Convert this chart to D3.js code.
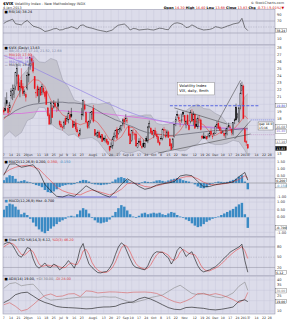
<!DOCTYPE html>
<html><head><meta charset="utf-8">
<script src="https://cdn.jsdelivr.net/npm/d3@7"></script>
<style>html,body{margin:0;padding:0;background:#fff;} svg{display:block;font-family:"DejaVu Sans",Verdana,sans-serif;}</style>
</head><body><svg id="c" width="287" height="320"></svg>
<script>
// ---------- DATA ----------
const startDate = "2012-05-07", endDate = "2013-01-31";
const holidays = ["2012-05-28","2012-07-04","2012-09-03","2012-10-29","2012-10-30","2012-11-22","2012-12-25","2013-01-01","2013-01-21"];
const monthNames = ["Jan","Feb","Mar","Apr","May","Jun","Jul","Aug","Sep","Oct","Nov","Dec"];

const opens = [19.2,19.4,20.5,19.4,19.5,21.2,21.5,21.4,22.5,24.0, 24.1,21.8,23.4,22.5,21.6,21.4,22.3,24.3,25.6,26.5,
 26.0,23.9,21.6,22.5,20.3,22.4,21.7,22.3,21.7,21.8, 19.5,18.5,17.3,19.5,19.6,20.1,19.4,20.1,17.6,17.2,
 16.8,16.9,18.0,17.7,17.8,18.5,18.6,17.6,17.0,17.3, 16.4,15.7,15.8,18.4,18.5,19.9,18.8,17.5,17.0,17.7,
 18.6,19.4,16.4,15.7,15.5,16.0,15.5,15.7,15.2,14.9, 15.0,14.7,14.0,14.0,14.1,15.3,15.6,16.4,15.9,16.5,
 16.4,17.2,17.9,18.0,17.6,16.9,15.8,14.9,16.0,15.6, 15.8,13.9,14.8,14.8,14.0,14.5,13.9,15.2,14.8,16.8,
 16.6,16.2,15.6,16.3,15.7,15.4,14.6,15.2,15.2,16.4, 15.6,15.6,16.1,15.1,14.4,13.9,15.4,17.6,18.6,18.1,
 17.4,17.8,18.9,18.4,17.1,18.4,17.0,17.6,18.6,17.8, 18.6,17.2,16.8,17.8,17.8,15.5,15.4,15.3,15.4,15.5,
 15.5,16.2,15.5,15.7,15.9,17.0,17.3,16.8,16.1,16.1, 15.9,15.7,16.0,16.8,16.8,16.5,15.9,17.8,19.6,18.4,
 17.6,19.8,22.0,22.6,16.4,14.7,14.3];
const highs = [19.6,21.0,21.7,19.9,20.3,22.3,22.8,22.8,24.6,25.7, 24.3,23.1,25.1,23.0,22.1,21.7,24.6,25.3,26.7,27.1,
 26.3,24.0,22.2,22.8,22.4,22.5,22.9,22.6,22.0,22.0, 19.6,18.8,20.4,19.9,20.6,20.4,19.6,20.8,17.8,17.6,
 17.0,17.7,18.3,18.4,19.1,19.0,19.5,17.8,17.6,17.9, 16.8,16.0,16.6,19.5,20.7,20.5,19.0,17.5,17.7,18.9,
 19.0,19.9,16.5,16.1,16.3,16.3,15.7,15.8,15.4,15.6, 15.2,14.8,14.1,14.6,15.4,16.0,16.4,16.8,16.4,16.9,
 17.0,18.0,18.2,18.6,18.1,17.0,15.9,16.3,16.5,16.0, 16.3,14.5,15.2,15.3,14.3,15.0,14.6,15.5,16.9,17.7,
 16.8,16.4,16.4,16.7,16.2,15.5,14.9,15.5,16.6,16.8, 16.5,16.4,16.3,15.2,14.5,15.2,17.2,18.3,19.1,18.6,
 17.8,18.6,19.0,18.4,17.7,18.6,17.4,19.2,19.3,19.0, 18.7,18.0,18.3,18.5,18.0,15.7,16.0,15.6,15.5,15.9,
 16.2,16.6,15.8,16.1,17.1,17.6,17.7,17.0,16.6,16.3, 16.0,16.6,16.9,17.4,17.0,16.5,17.4,18.0,20.1,18.8,
 19.7,23.0,23.2,22.8,16.7,14.9,14.4];
const lows = [18.5,19.0,19.8,18.6,18.9,20.8,20.6,20.9,22.0,22.9, 21.9,21.0,22.2,21.2,21.2,20.4,22.0,23.1,24.9,25.5,
 24.4,22.1,20.9,21.1,20.3,21.2,21.3,21.4,20.8,19.9, 18.3,17.1,17.1,18.1,19.4,19.5,18.9,19.1,16.9,16.6,
 16.3,16.5,17.1,17.5,17.3,17.8,18.1,16.7,16.8,16.2, 15.9,15.4,15.6,17.8,18.3,19.1,17.3,16.5,16.6,17.3,
 18.0,17.4,15.5,15.4,15.2,15.3,15.1,14.7,14.8,14.6, 14.4,14.2,13.3,13.8,13.7,15.0,15.3,15.0,15.7,16.0,
 16.2,16.9,16.6,17.4,17.3,15.5,14.4,14.7,15.6,15.0, 14.0,13.8,14.5,14.1,13.7,13.9,13.8,14.7,14.5,16.6,
 15.9,15.6,15.2,15.6,15.1,14.5,14.1,14.9,14.9,15.9, 15.2,15.3,15.2,14.1,13.6,13.7,15.3,16.9,18.1,17.5,
 16.8,17.4,18.2,17.2,16.6,17.1,16.3,17.3,17.6,17.0, 16.6,16.8,16.5,17.5,16.3,15.2,15.1,15.1,15.0,15.3,
 15.3,15.5,15.1,15.5,15.8,16.6,16.5,16.2,15.8,15.9, 15.3,15.2,15.6,16.7,16.3,15.6,15.6,17.2,17.7,18.0,
 17.4,19.3,21.4,17.9,14.6,14.1,13.7];
const closes = [18.9,19.1,20.1,18.8,19.9,21.9,22.0,22.3,24.5,25.1, 22.0,22.5,22.3,21.5,21.8,21.0,24.1,24.1,26.7,26.1,
 24.7,22.2,21.7,21.2,22.1,21.3,22.5,21.7,21.1,20.0, 18.4,17.2,20.1,18.1,20.1,19.7,19.5,19.7,17.1,16.8,
 16.7,17.5,17.1,18.0,18.7,18.0,18.3,16.7,17.1,16.5, 16.1,15.5,16.3,18.6,20.5,19.3,17.5,16.7,17.6,18.9,
 19.0,17.6,15.6,15.9,16.0,15.3,15.3,14.7,15.0,15.2, 14.6,14.3,13.5,14.0,15.1,15.4,16.3,15.2,16.4,16.6,
 17.0,17.8,17.5,18.0,17.7,15.6,14.4,16.3,16.0,15.8, 14.1,14.5,14.6,14.2,13.9,14.0,14.5,14.8,16.8,17.3,
 16.0,15.7,16.3,15.7,15.4,14.6,14.3,15.1,16.4,16.3, 15.4,16.1,15.3,14.1,13.6,15.1,17.1,17.9,18.4,17.9,
 17.7,17.8,18.6,17.6,17.6,17.1,16.4,18.9,17.6,18.6, 16.6,16.9,18.0,17.8,16.4,15.2,15.2,15.3,15.1,15.5,
 15.9,15.7,15.4,15.9,16.9,17.1,16.6,16.3,15.9,16.1, 15.6,15.9,16.6,17.0,16.7,16.0,17.4,17.7,17.8,18.5,
 19.5,21.6,22.7,18.0,14.7,14.6,13.8];

// overlays sampled every 4 trading days (last sample = last day)
const step4 = 4;
const bbUpper = [20.2,20.2,22.6,24.0,24.9,26.9,26.0,25.9,26.5,26.2,23.5,22.4,20.6,20.3,20.0,20.1,20.0,20.1,20.3,18.7,17.4,18.3,18.4,18.3,18.5,18.5,17.3,17.1,17.2,17.6,18.6,19.1,19.7,20.0,19.4,19.3,18.7,18.3,17.3,17.3,18.7,21.1,21.5];
const bbLower = [15.4,16.2,15.4,16.0,17.7,18.1,19.6,19.5,17.3,16.6,16.3,15.6,15.8,15.1,15.2,15.3,14.8,13.7,12.7,12.7,13.4,13.1,13.2,13.5,12.9,12.9,13.3,13.1,13.6,13.6,13.4,13.5,14.1,14.4,15.4,14.5,14.3,14.3,14.5,14.9,14.7,13.5,12.7];
const ma10 = [17.9,18.7,20.6,22.1,22.7,23.5,23.4,22.5,20.6,19.6,18.5,18.1,17.5,17.1,17.4,18.0,17.4,16.3,15.0,14.8,15.4,16.8,16.7,15.7,14.8,15.1,15.7,15.7,15.5,15.5,16.3,17.6,17.7,17.5,17.1,16.1,15.6,16.1,16.3,16.4,17.3,18.4,17.9];
const ma50 = [18.1,18.5,19.1,19.5,19.8,20.0,20.1,20.2,20.3,20.3,20.3,20.2,20.2,20.1,19.9,19.6,19.1,18.6,18.2,17.8,17.5,17.1,16.8,16.4,16.1,15.9,15.8,15.7,15.6,15.6,15.7,15.8,15.9,16.0,16.1,16.2,16.3,16.3,16.3,16.4,16.5,16.6,16.6];
const ma100 = [18.6,18.6,18.7,18.7,18.8,18.9,19.0,19.0,19.1,19.1,19.1,19.0,19.0,18.9,18.9,18.8,18.8,18.7,18.6,18.5,18.4,18.3,18.2,18.1,18.0,17.9,17.7,17.6,17.4,17.3,17.2,17.1,17.0,16.9,16.8,16.8,16.7,16.7,16.6,16.6,16.6,16.6,16.5];
const ma200 = [26.9,26.6,26.3,26.0,25.6,25.2,24.8,24.4,24.0,23.6,23.2,22.8,22.4,22.0,21.6,21.2,20.8,20.4,20.0,19.7,19.3,19.0,18.7,18.4,18.2,18.0,17.8,17.6,17.5,17.3,17.2,17.1,17.0,16.9,16.8,16.7,16.6,16.6,16.5,16.5,16.4,16.4,16.4];

// indicators
const step2 = 2;
const rsi = [62,68,72,76,61,59,57,66,72,62,53,50,47,42,35,37,40,44,45,40,41,45,47,51,48,43,55,57,51,48,46,43,40,38,36,34,37,40,50,56,58,60,52,40,45,44,40,41,42,43,41,40,43,46,45,42,41,55,62,64,62,58,48,50,57,52,46,43,40,41,42,45,51,49,46,49,53,56,60,62,64,79,48,38];
const macdLine = [0.55,1.35,1.36,1.12,1.2,1.3,0.8,-0.1,-0.55,-0.95,-1.0,-0.85,-0.95,-0.6,-0.2,-0.45,-0.65,-0.85,-1.0,-0.6,-0.1,0.3,0.05,-0.25,-0.45,-0.35,-0.15,-0.05,0.0,0.1,0.5,0.58,0.52,0.1,-0.28,-0.25,-0.12,-0.05,0.0,0.07,0.45,0.75,0.2];
const macdSignal = [0.65,0.95,1.12,1.22,1.27,1.15,1.0,0.55,0.15,-0.3,-0.55,-0.7,-0.8,-0.85,-0.65,-0.5,-0.6,-0.72,-0.85,-0.7,-0.45,-0.05,0.0,-0.1,-0.25,-0.3,-0.2,-0.1,0.05,0.2,0.35,0.45,0.45,0.3,0.05,-0.1,-0.13,-0.08,-0.02,0.1,0.25,0.52,0.35];
const macdHist = [0.2,0.4,0.55,0.5,0.3,0.1,0.15,0.2,0.1,0.05,-0.05,-0.15,-0.2,-0.3,-0.5,-0.65,-0.7,-0.6,-0.45,-0.3,-0.2,-0.15,-0.1,-0.12,-0.08,0.05,0.15,0.22,0.2,0.1,-0.05,-0.1,-0.12,-0.15,-0.12,-0.1,-0.05,0.1,0.25,0.38,0.42,0.35,0.2,0.05,-0.05,-0.08,-0.1,0.05,0.12,0.08,0.05,0.1,0.18,0.2,0.15,0.1,0.18,0.25,0.3,0.35,0.3,0.2,0.15,0.1,0.02,-0.1,-0.25,-0.35,-0.38,-0.3,-0.15,-0.05,0.05,0.1,0.08,0.05,0.08,0.15,0.22,0.3,0.45,0.55,0.1,-0.45];
const hist2 = [0.5,0.75,0.9,0.85,0.7,0.5,0.2,0.3,0.15,-0.1,-0.35,-0.6,-0.8,-0.95,-1.05,-0.9,-0.75,-0.6,-0.45,-0.3,-0.2,-0.1,0.05,0.1,0.05,0.2,0.45,0.6,0.5,0.25,-0.05,-0.2,-0.35,-0.4,-0.35,-0.3,-0.15,0.1,0.35,0.6,0.8,0.7,0.45,0.2,0.05,-0.05,0.1,0.25,0.3,0.2,0.25,0.3,0.25,0.3,0.2,0.15,0.25,0.35,0.3,0.15,0.05,-0.05,-0.15,-0.25,-0.4,-0.55,-0.65,-0.6,-0.45,-0.3,-0.2,-0.1,-0.05,0.05,0.15,0.25,0.35,0.45,0.55,0.7,0.85,0.95,0.2,-0.7];
const stochK = [88,92,94,85,70,55,50,62,78,75,45,25,18,25,33,22,20,30,25,13,20,28,40,30,18,40,75,90,55,30,20,12,5,4,7,8,18,33,58,80,92,85,65,45,27,20,18,15,13,25,45,60,66,65,64,55,48,30,45,70,80,70,52,60,66,45,25,12,7,10,13,18,22,30,38,48,55,65,70,75,80,88,40,6];
const stochD = [80,86,91,90,83,70,58,56,63,72,66,48,30,23,25,27,25,24,25,22,19,20,29,33,29,29,44,68,73,58,35,21,12,7,5,6,11,20,36,57,77,86,81,65,46,31,22,18,15,18,28,43,57,64,65,61,56,44,41,48,65,73,67,61,59,57,45,27,15,10,10,14,18,23,30,39,47,56,63,70,75,81,69,46];
const adx = [18,21,25.8,27.6,28.2,24.5,20.8,18.2,16.5,14.3,13.5,13.2,12.9,12.5,12.0,12.3,13.3,13.8,13.9,14.5,16.8,18.0,18.8,21.8,23.3,21.5,18.9,16.0,13.2,11.6,11.2,13.3,13.6,13.0,12.5,11.4,11.0,11.6,12.6,13.8,19.5,20.8,19.0];
const plusDI = [32,36.5,37.5,34.5,35.5,36,30,23,20.5,21,21.5,22.3,22.8,23.4,23.5,23.5,23.3,23.8,23.4,23.5,21.5,19.5,17.8,19.5,21.0,23.0,24.2,25.5,29,32.5,35,31,27,25.8,27.2,25,23.5,22.8,24.5,27.5,34,38,30];
const minusDI = [16,18,14.5,10,11.5,16,21,25,26.5,24,24.5,26.5,26.8,24,29.5,29,27.5,28,28.5,28.4,28,27.6,28.2,28.3,28.4,28.0,27.0,24.5,21.5,19,17.7,19.8,22.5,27,26.5,25.6,26.8,25.5,23.5,21,18,21.5,28];

// annotations in data coordinates [dayIndex, value]
const trendLines = [[[116,19.5],[152,17.2]],[[105,13.1],[168,15.8]],[[146,17.7],[161,23.4]],[[157,15.1],[168,17.7]]];
const mainTicks = [13,14,15,16,17,18,19,20,21,22,23,24,25,26,27,28];
const rsiTicks = [90,70,50,30,10];
const macdTicks = [1.5,1,0.5,0,-0.5,-1];
const histTicks = [1,0.5,0,-0.5,-1];
const stoTicks = [80,50,20];
const adxTicks = [40,35,30,25,20,15,10];

// ---------- CALENDAR ----------
function tradingDays(s,e){
  const out=[]; let d=new Date(s+"T00:00:00Z"); const end=new Date(e+"T00:00:00Z");
  while(d<=end){const dow=d.getUTCDay(); const iso=d.toISOString().slice(0,10);
    if(dow>0&&dow<6&&!holidays.includes(iso)) out.push(new Date(d));
    d=new Date(d.getTime()+86400000);}
  return out;
}
const days = tradingDays(startDate,endDate);
const nSlots = days.length, last = closes.length-1;
const monthStarts = days.map((d,i)=> i>0 && days[i-1].getUTCMonth()!==d.getUTCMonth());
const labels = [];
days.forEach((d,i)=>{
  const prev = i? days[i-1]:null;
  const newWeek = !prev || d.getUTCDay() <= prev.getUTCDay() || (d-prev)>3*86400000;
  if(monthStarts[i]){ labels.push({i, t: d.getUTCMonth()===0 ? String(d.getUTCFullYear()) : monthNames[d.getUTCMonth()]}); }
  else if(newWeek){
    let near=false; for(let k=Math.max(0,i-2);k<=Math.min(nSlots-1,i+2);k++) if(monthStarts[k]) near=true;
    if(!near) labels.push({i, t:String(d.getUTCDate())});
  }
});

// ---------- DRAW ----------
const L=3, R=275, BG="#dcdcea", GRID="#c6c6d8";
const svg=d3.select("#c");
const x=d3.scaleLinear().domain([-0.5,nSlots-0.5]).range([L,R]);
const samp=(arr,st)=>arr.map((v,k)=>[Math.min(k*st,last),v]);
const F=3.6;

function panel(y0,y1,id){
  svg.append("rect").attr("x",L).attr("y",y0).attr("width",R-L).attr("height",y1-y0).attr("fill",BG).attr("stroke","#8c8ca4").attr("stroke-width",0.5);
  svg.append("clipPath").attr("id",id).append("rect").attr("x",L).attr("y",y0).attr("width",R-L).attr("height",y1-y0);
  const g=svg.append("g").attr("clip-path",`url(#${id})`);
  labels.forEach(l=>g.append("line").attr("x1",x(l.i)).attr("x2",x(l.i)).attr("y1",y0).attr("y2",y1).attr("stroke",GRID).attr("stroke-width",0.4));
  return g;
}
function hgrid(g,ys,dash){ys.forEach(y=>g.append("line").attr("x1",L).attr("x2",R).attr("y1",y).attr("y2",y).attr("stroke",dash?"#9a9aac":GRID).attr("stroke-width",0.4).attr("stroke-dasharray",dash||null));}
// right axis: boxes first, then tick labels that do not collide
function rightAxis(ticks, sy, fmt, boxes){
  boxes.forEach(b=>{
    svg.append("rect").attr("x",275.5).attr("y",b.y-2.1).attr("width",11).attr("height",4.2).attr("fill",b.fill).attr("stroke","#333").attr("stroke-width",0.3);
    svg.append("text").attr("x",276.2).attr("y",b.y+1.2).attr("font-size",3.2).attr("fill",b.col).text(b.t);
  });
  ticks.forEach(v=>{const y=sy(v); if(boxes.every(b=>Math.abs(b.y-y)>4.4))
    svg.append("text").attr("x",277).attr("y",y+1.2).attr("font-size",F).attr("fill","#333").text(fmt(v));});
}
function line(g,pts,sx,sy,col,w,dash){g.append("path").attr("d",d3.line().x(p=>sx(p[0])).y(p=>sy(p[1]))(pts)).attr("fill","none").attr("stroke",col).attr("stroke-width",w).attr("stroke-dasharray",dash||null);}
function legend(y,parts){const t=svg.append("text").attr("x",4.5).attr("y",y).attr("font-size",3.4);parts.forEach(p=>t.append("tspan").attr("fill",p[1]).text(p[0]));}

// header
const h1=svg.append("text").attr("x",3).attr("y",4.5).attr("font-size",4);
h1.append("tspan").attr("font-weight","bold").text("$VIX ");
h1.append("tspan").attr("font-size",3.5).attr("fill","#333").text("Volatility Index - New Methodology INDX");
svg.append("text").attr("x",284).attr("y",4.3).attr("text-anchor","end").attr("font-size",3.4).attr("fill","#333").text("© StockCharts.com");
svg.append("text").attr("x",3).attr("y",8.7).attr("font-size",3.4).attr("fill","#333").text("4-Jan-2013");
const h2=svg.append("text").attr("x",284).attr("y",8.7).attr("text-anchor","end").attr("font-size",3.4);
[["Open ",1],["14.30  ",0],["High ",1],["14.40  ",0],["Low ",1],["13.68  ",0],["Close ",1],["13.83  ",0],["Chg ",1],["-0.73 (-5.01%)▼",0]]
 .forEach(p=>h2.append("tspan").attr("font-weight",p[1]?"bold":null).attr("fill",p[1]?"#000":"#c00").text(p[0]));

// RSI panel
const yR=d3.scaleLinear().domain([0,100]).range([42,12]);
const gR=panel(9.5,45,"cR");
gR.selectAll(null).data([70,30]).enter().append("line").attr("x1",L).attr("x2",R).attr("y1",d=>yR(d)).attr("y2",d=>yR(d)).attr("stroke","#8a8a9c").attr("stroke-width",0.5);
hgrid(gR,[yR(50)],"1.5,1");
line(gR,samp(rsi,step2),x,yR,"#333",0.6);
legend(13.2,[["■ ","#000"],["RSI(14) 38.24","#000"]]);
rightAxis(rsiTicks,yR,String,[{y:yR(38),t:"38.24",fill:"#fff",col:"#000"}]);

// MAIN panel
const yM=d3.scaleLinear().domain([12.4,28.4]).range([158,45]);
const gM=panel(45,158,"cM");
hgrid(gM,mainTicks.map(yM));
const up=samp(bbUpper,step4), lo=samp(bbLower,step4);
gM.append("path").attr("d",d3.area().x(p=>x(p[0])).y0((p,k)=>yM(lo[k][1])).y1(p=>yM(p[1]))(up)).attr("fill","#c2c2cc").attr("opacity",0.9);
line(gM,up,x,yM,"#9898a8",0.5); line(gM,lo,x,yM,"#9898a8",0.5);
line(gM,samp(ma100,step4),x,yM,"#e060e0",0.7);
line(gM,samp(ma200,step4),x,yM,"#9484e4",0.7);
line(gM,samp(ma50,step4),x,yM,"#505060",0.6);
line(gM,samp(ma10,step4),x,yM,"#e84848",0.6);
closes.forEach((c,i)=>{
  const o=opens[i], prev=i?closes[i-1]:o;
  const col=c<prev?"#e8141c":"#000", hollow=c>=o;
  gM.append("line").attr("x1",x(i)).attr("x2",x(i)).attr("y1",yM(highs[i])).attr("y2",yM(lows[i])).attr("stroke",col).attr("stroke-width",0.45);
  const t=yM(Math.max(o,c)), b=yM(Math.min(o,c));
  gM.append("rect").attr("x",x(i)-0.55).attr("y",t).attr("width",1.1).attr("height",Math.max(0.4,b-t)).attr("fill",hollow?BG:col).attr("stroke",col).attr("stroke-width",0.35);
});
trendLines.forEach(tl=>line(gM,tl,x,yM,"#333",0.5));
line(gM,[[113,19.8],[174,19.8]],x,yM,"#4a5ae0",0.9,"3,1.5");
line(gM,[[168,17.8],[184.5,17.8]],x,yM,"#4a5ae0",0.6,"1,1");
line(gM,[[168,15.7],[184.5,15.7]],x,yM,"#b070b0",0.5,"1,1");
const bx=x(118), by=yM(23.1);
gM.append("rect").attr("x",bx).attr("y",by).attr("width",37).attr("height",12.5).attr("fill","#fff").attr("stroke","#777").attr("stroke-width",0.4);
gM.append("text").attr("x",bx+2).attr("y",by+5).attr("font-size",3.7).text("Volatility Index");
gM.append("text").attr("x",bx+2).attr("y",by+10).attr("font-size",3.7).text("VIX, daily, 8mth");
const sx=x(173), sy=yM(17.5);
gM.append("rect").attr("x",sx).attr("y",sy).attr("width",15).attr("height",8).attr("fill","#fff").attr("stroke","#555").attr("stroke-width",0.4);
gM.append("text").attr("x",sx+1).attr("y",sy+3.4).attr("font-size",3).text("gap 18.0");
gM.append("text").attr("x",sx+1).attr("y",sy+7).attr("font-size",3).text("15/16");
labels.forEach(l=>gM.append("text").attr("x",x(l.i)).attr("y",156.3).attr("text-anchor","middle").attr("font-size",3.2).attr("fill","#333").text(l.t));
legend(48.8,[["■ ","#000"],["$VIX (Daily) 13.83","#000"]]);
legend(52.3,[["— BB(20,2.0) 17.10, 21.52, 12.68","#7a86a8"]]);
legend(55.8,[["— MA(10) 17.90","#e03030"]]);
legend(59.3,[["— MA(100) 16.52","#d050d0"]]);
legend(62.8,[["— MA(200) 16.40","#7c6cd8"]]);
legend(66.3,[["— MA(50) 16.60","#404050"]]);
rightAxis(mainTicks,yM,String,[
  {y:yM(19.8),t:"19.80",fill:"#fff",col:"#3344cc"},
  {y:126.6,t:"16.60",fill:"#fff",col:"#505060"},
  {y:131.2,t:"16.40",fill:"#fff",col:"#7c6cd8"},
  {y:141.6,t:"17.10",fill:"#fff",col:"#555"},
  {y:148.4,t:"13.83",fill:"#000",col:"#fff"}]);

// MACD panel
const yMa=d3.scaleLinear().domain([-1.07,1.71]).range([198,159]);
const gMa=panel(158,198,"cMa");
hgrid(gMa,macdTicks.map(yMa));
const bw=2*(x(1)-x(0))-0.5;
samp(macdHist,step2).forEach(p=>gMa.append("rect").attr("x",x(p[0])-bw/2).attr("width",bw).attr("y",Math.min(yMa(0),yMa(p[1]))).attr("height",Math.abs(yMa(p[1])-yMa(0))).attr("fill","#3a8ac4"));
gMa.append("line").attr("x1",L).attr("x2",R).attr("y1",yMa(0)).attr("y2",yMa(0)).attr("stroke","#777").attr("stroke-width",0.4);
line(gMa,[[37,-1.0],[77,-1.0]],x,yMa,"#7070e8",0.9);
line(gMa,samp(macdSignal,step4),x,yMa,"#e84848",0.6);
line(gMa,samp(macdLine,step4),x,yMa,"#111",0.6);
legend(162.5,[["■ ","#000"],["MACD(12,26,9) ","#000"],["0.200, ","#000"],["0.350, ","#e03030"],["-0.150","#3a8ac4"]]);
rightAxis(macdTicks,yMa,v=>v.toFixed(2),[{y:180.6,t:"0.200",fill:"#fff",col:"#000"},{y:185.8,t:"-0.150",fill:"#fff",col:"#3a8ac4"}]);

// Histogram panel
const yH=d3.scaleLinear().domain([-1.3,1.27]).range([237,198]);
const gH=panel(198,237,"cH");
hgrid(gH,histTicks.map(yH));
samp(hist2,step2).forEach(p=>gH.append("rect").attr("x",x(p[0])-bw/2).attr("width",bw).attr("y",Math.min(yH(0),yH(p[1]))).attr("height",Math.abs(yH(p[1])-yH(0))).attr("fill","#3a8ac4"));
legend(201.5,[["■ ","#3a8ac4"],["MACD(12,26,9) Hist -0.700","#000"]]);
rightAxis(histTicks,yH,v=>v.toFixed(2),[{y:yH(-0.7),t:"-0.700",fill:"#fff",col:"#000"}]);

// Stochastic panel
const yS=d3.scaleLinear().domain([0,100]).range([274.3,240.1]);
const gS=panel(237,276,"cS");
gS.selectAll(null).data([80,20]).enter().append("line").attr("x1",L).attr("x2",R).attr("y1",d=>yS(d)).attr("y2",d=>yS(d)).attr("stroke","#8a8a9c").attr("stroke-width",0.5);
hgrid(gS,[yS(50)],"1.5,1");
line(gS,samp(stochD,step2),x,yS,"#e84848",0.6);
line(gS,samp(stochK,step2),x,yS,"#111",0.6);
legend(240.5,[["■ ","#000"],["Slow STO %K(14,3) 6.12, ","#000"],["%D(3) 46.20","#e03030"]]);
rightAxis(stoTicks,yS,String,[{y:272.6,t:"6.12",fill:"#fff",col:"#000"}]);

// ADX panel
const yA=d3.scaleLinear().domain([7,43]).range([314,277]);
const gA=panel(276,314,"cA");
hgrid(gA,[40,30,20,10].map(yA));
line(gA,samp(plusDI,step4),x,yA,"#8a8a8a",0.6);
line(gA,samp(minusDI,step4),x,yA,"#d86060",0.6);
line(gA,samp(adx,step4),x,yA,"#111",0.6);
legend(279.5,[["■ ","#000"],["ADX(14) 19.00, ","#000"],["+DI 30.00, ","#777"],["-DI 28.00","#d04040"]]);
rightAxis(adxTicks,yA,String,[{y:yA(29.5),t:"30.00",fill:"#fff",col:"#777"},{y:yA(19),t:"19.00",fill:"#fff",col:"#000"}]);

// bottom axis
labels.forEach(l=>svg.append("text").attr("x",x(l.i)).attr("y",318.6).attr("text-anchor","middle").attr("font-size",3.2).attr("fill","#333").text(l.t));
</script></body></html>
